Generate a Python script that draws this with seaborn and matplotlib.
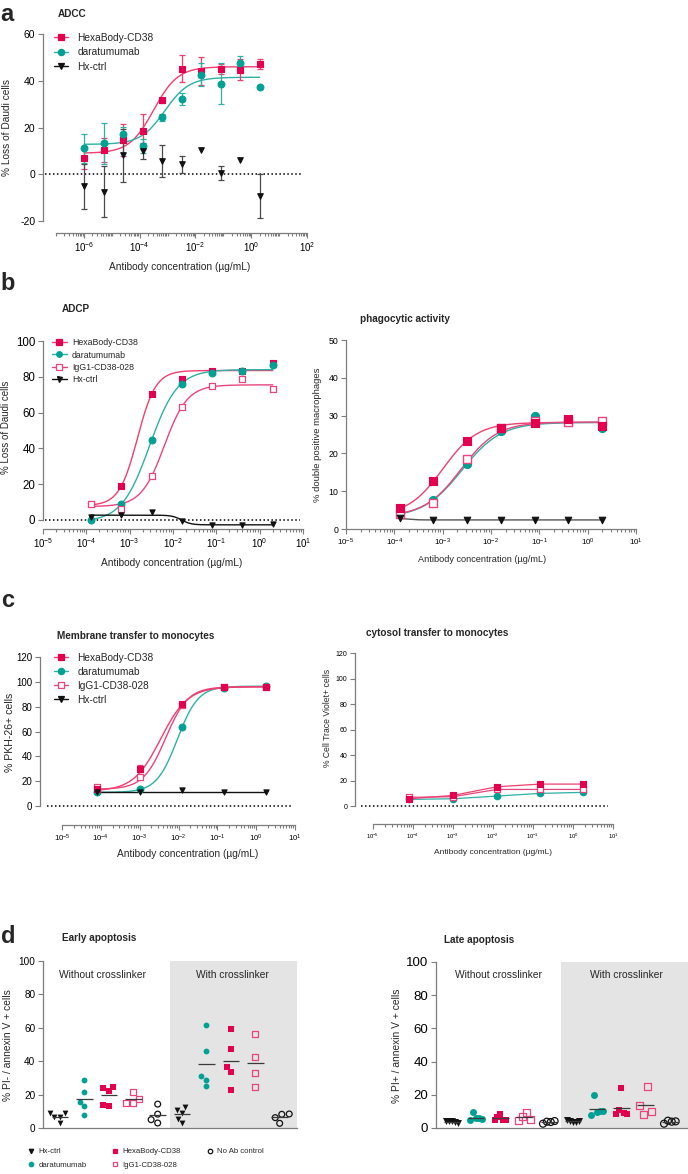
import numpy as np
import pandas as pd
import matplotlib
matplotlib.use("Agg")
import matplotlib.pyplot as plt
import seaborn as sns
from matplotlib.lines import Line2D
from matplotlib.ticker import FixedLocator, NullFormatter, LogFormatterMathtext

sns.set_theme(style="ticks")
plt.rcParams["font.family"] = ["Liberation Sans", "DejaVu Sans"]
plt.rcParams["mathtext.default"] = "regular"
plt.rcParams["axes.unicode_minus"] = False

# ------------------------------------------------------------------ data
# a: ADCC
conc_a = [1.024e-6, 5.12e-6, 2.56e-5, 1.28e-4, 6.4e-4, 3.2e-3, 1.6e-2, 8e-2, 0.4, 2.0]
hexa_a = [7.1, 10.4, 14.6, 18.4, 31.6, 45.1, 44.0, 45.0, 44.8, 47.1]
hexa_a_sd = [5.0, 5.1, 6.8, 7.5, 1.0, 5.8, 6.0, 2.0, 4.5, 2.0]
dara_a = [11.1, 13.2, 17.4, 12.3, 24.3, 32.3, 42.6, 38.7, 47.5, 37.2]
dara_a_sd = [6.2, 8.6, 3.0, 3.0, 1.3, 2.5, 4.9, 8.8, 3.3, 0.0]
hx_a = [-5.2, -7.4, 8.1, 9.9, 5.7, 4.3, 10.6, 0.4, 6.1, -9.2]
hx_a_sd = [9.8, 11.0, 11.2, 3.5, 7.0, 3.7, 0.0, 3.0, 0.0, 9.5]
# fitted 4PL parameters: bottom, top, logEC50, hill
fit_a_hexa = [9.0, 46.0, -3.5, 1.0]
fit_a_dara = [12.8, 41.5, -3.1, 1.0]

# b: ADCP + phagocytic activity
conc_b = [1.28e-4, 6.4e-4, 3.2e-3, 1.6e-2, 8e-2, 0.4, 2.0]
hexa_b = [8.9, 19.0, 70.4, 78.6, 83.4, 83.4, 87.9]
dara_b = [0.0, 8.9, 44.7, 75.8, 81.9, 83.1, 86.4]
igg_b = [9.0, 6.1, 24.8, 63.3, 74.9, 78.6, 73.0]
hx_b = [1.5, 2.8, 4.3, -0.5, -2.9, -2.9, -2.2]
fit_b_hexa = [8.0, 83.5, -2.82, 2.06]
fit_b_dara = [-1.0, 84.0, -2.54, 1.35]
fit_b_igg = [7.5, 75.5, -2.20, 1.63]
fit_b_hx = [2.7, -2.7, -1.8, 4.0]

hexa_p = [5.6, 12.7, 23.4, 26.8, 28.0, 29.1, 27.3]
dara_p = [3.9, 7.7, 17.3, 25.9, 29.9, 28.8, 26.8]
igg_p = [4.1, 7.0, 18.4, 26.8, 28.7, 28.4, 28.5]
hx_p = [2.8, 2.4, 2.4, 2.5, 2.4, 2.4, 2.4]
fit_p_hexa = [3.5, 28.2, -3.00, 1.21]
fit_p_dara = [3.0, 28.2, -2.60, 1.08]
fit_p_igg = [3.3, 28.3, -2.62, 1.15]
fit_p_hx = [2.8, 2.4, -3.7, 5.0]

# c: trogocytosis
conc_c = [8.0e-5, 1.0e-3, 1.25e-2, 0.15, 1.8]
hexa_c = [13.5, 30.0, 82.0, 96.0, 95.5]
hexa_c_sd = [0.0, 3.0, 0.0, 0.0, 0.0]
dara_c = [11.0, 14.0, 64.0, 95.0, 96.5]
igg_c = [15.0, 23.0, 81.0, 96.0, 95.5]
hx_c = [11.5, 11.5, 12.5, 11.0, 11.0]
fit_c_hexa = [12.0, 96.0, -2.46, 1.24]
fit_c_dara = [11.0, 96.5, -2.03, 1.62]
fit_c_igg = [13.5, 96.0, -2.33, 1.51]
fit_c_hx = [11.5, 11.5, -3.0, 1.0]

hexa_cr = [5.7, 8.3, 15.1, 17.2, 17.2]
dara_cr = [5.2, 5.7, 7.8, 9.9, 10.7]
igg_cr = [6.8, 7.3, 13.0, 13.0, 13.0]

# d: apoptosis
treatments = ["Hx-ctrl", "daratumumab", "HexaBody-CD38", "IgG1-CD38-028", "No Ab control"]
conditions = ["Without crosslinker", "With crosslinker"]
early = {
    ("Hx-ctrl", "Without crosslinker"): [9.2, 8.8, 6.4, 6.4, 2.8],
    ("daratumumab", "Without crosslinker"): [28.7, 21.6, 15.6, 13.4, 7.8],
    ("HexaBody-CD38", "Without crosslinker"): [24.0, 24.8, 22.4, 13.2, 13.8],
    ("IgG1-CD38-028", "Without crosslinker"): [21.8, 17.3, 14.8, 14.8],
    ("No Ab control", "Without crosslinker"): [14.3, 8.3, 3.0, 5.0],
    ("Hx-ctrl", "With crosslinker"): [12.4, 9.2, 10.8, 5.6, 2.8],
    ("daratumumab", "With crosslinker"): [61.9, 45.9, 30.9, 28.9, 25.1],
    ("HexaBody-CD38", "With crosslinker"): [59.5, 47.5, 36.3, 33.7, 22.6],
    ("IgG1-CD38-028", "With crosslinker"): [56.3, 42.7, 33.1, 24.4],
    ("No Ab control", "With crosslinker"): [8.4, 8.2, 6.2, 2.8],
}
late = {
    ("Hx-ctrl", "Without crosslinker"): [4.5, 4.0, 4.0, 3.5, 3.0],
    ("daratumumab", "Without crosslinker"): [4.6, 9.6, 6.0, 5.8, 5.6],
    ("HexaBody-CD38", "Without crosslinker"): [5.0, 6.6, 8.4, 5.0, 5.0],
    ("IgG1-CD38-028", "Without crosslinker"): [4.4, 7.0, 9.4, 5.0],
    ("No Ab control", "Without crosslinker"): [2.6, 3.8, 3.6, 4.2],
    ("Hx-ctrl", "With crosslinker"): [5.0, 4.2, 3.6, 3.4, 4.0],
    ("daratumumab", "With crosslinker"): [7.8, 19.6, 9.6, 10.0, 10.4],
    ("HexaBody-CD38", "With crosslinker"): [8.4, 11.0, 24.0, 9.0, 8.6],
    ("IgG1-CD38-028", "With crosslinker"): [13.4, 8.0, 25.0, 10.0],
    ("No Ab control", "With crosslinker"): [2.6, 4.4, 3.8, 4.0],
}

# ------------------------------------------------------------------ style
AX = "#7d7d7d"
MAG = "#E3004F"
MAG_L = "#EE3F6E"
TEAL = "#00A094"
TEAL_L = "#2DB0A5"
PINK = "#E8457C"
BLK = "#111111"
GREYBAR = "#4a4a4a"

W, H = 688, 1174
fig = plt.figure(figsize=(W / 100, H / 100), dpi=100)
fig.patch.set_facecolor("white")
BOX = {}


def add_ax(name, l, t, r, b):
    ax = fig.add_axes([l / W, 1 - b / H, (r - l) / W, (b - t) / H])
    BOX[name] = (l, t, r, b)
    ax.set_facecolor("none")
    for s in ["top", "right"]:
        ax.spines[s].set_visible(False)
    for s in ["left", "bottom"]:
        ax.spines[s].set_color(AX)
        ax.spines[s].set_linewidth(0.9)
    ax.tick_params(which="both", color=AX, width=0.8, labelcolor="black", direction="out")
    ax.tick_params(which="major", length=3.5, pad=2)
    ax.tick_params(which="minor", length=2.0)
    ax.grid(False)
    return ax


def ftext(x, y, s, **kw):
    fig.text(x / W, 1 - y / H, s, **kw)


def log_axis(ax, lo_exp, e0, e1, labeled, fs):
    ax.set_xscale("log")
    ax.set_xlim(10 ** lo_exp, 10.0 ** e1)
    ax.spines["bottom"].set_bounds(10.0 ** e0, 10.0 ** e1)
    ax.xaxis.set_major_locator(FixedLocator([10.0 ** e for e in labeled]))
    ax.xaxis.set_major_formatter(LogFormatterMathtext())
    minors = [k * 10.0 ** e for e in range(e0, e1) for k in range(2, 10)]
    minors += [10.0 ** e for e in range(e0, e1 + 1) if e not in labeled]
    ax.xaxis.set_minor_locator(FixedLocator(minors))
    ax.xaxis.set_minor_formatter(NullFormatter())
    ax.tick_params(axis="x", labelsize=fs)


def y_axis(ax, lo, hi, blo, bhi, step, fs):
    ax.set_ylim(lo, hi)
    ax.spines["left"].set_bounds(blo, bhi)
    ax.set_yticks(np.arange(blo, bhi + 0.1, step))
    ax.tick_params(axis="y", labelsize=fs)


def logistic(xs, p):
    b, t, l, h = p
    return b + (t - b) / (1 + 10 ** ((l - np.log10(xs)) * h))


def curve(ax, conc, p, color, lw=1.0):
    xs = np.logspace(np.log10(min(conc)), np.log10(max(conc)), 300)
    sns.lineplot(x=xs, y=logistic(xs, p), ax=ax, color=color, lw=lw,
                 estimator=None, sort=False, zorder=2)


def pts(ax, x, y, marker, s, face, edge, lw=0.8, z=4):
    n0 = len(ax.collections)
    sns.scatterplot(x=x, y=y, ax=ax, marker=marker, s=s, color=edge,
                    linewidth=lw, edgecolor=edge, legend=False, zorder=z, clip_on=False)
    for c in ax.collections[n0:]:
        c.set_facecolor(face)
        c.set_edgecolor(edge)


def ebar(ax, x, y, sd, color, lw=0.9, cap=2.0):
    idx = [i for i, v in enumerate(sd) if v > 0]
    ax.errorbar([x[i] for i in idx], [y[i] for i in idx], yerr=[sd[i] for i in idx],
                fmt="none", ecolor=color, elinewidth=lw, capsize=cap, capthick=lw, zorder=3)


def zero_dots(ax, name, x0, x1):
    l, t, r, b = BOX[name]
    ax.plot([(x0 - l) / (r - l), (x1 - l) / (r - l)], [0, 0], transform=ax.get_yaxis_transform(),
            color="black", lw=1.1, ls=(0, (1, 1.6)), clip_on=False, zorder=1)


def handle(marker, face, edge, line, ms):
    return Line2D([0], [0], color=line, lw=1.0, marker=marker, markersize=ms,
                  markerfacecolor=face, markeredgecolor=edge, markeredgewidth=0.9)


def legend(ax, handles, labels, x, y, fs, ls, hl=1.4, tp=0.9):
    ax.legend(handles, labels, loc="upper left", bbox_to_anchor=(x / W, 1 - y / H),
              bbox_transform=fig.transFigure, frameon=False, fontsize=fs, labelspacing=ls,
              handlelength=hl, handletextpad=tp, borderpad=0, borderaxespad=0)


# ------------------------------------------------------------------ panel a
ax = add_ax("a", 43, 34, 307, 233)
log_axis(ax, -7.47, -7, 2, [-6, -4, -2, 0, 2], 7)
y_axis(ax, -25.1, 60, -20, 60, 20, 7.5)
zero_dots(ax, "a", 45, 303)
curve(ax, conc_a, fit_a_hexa, MAG_L)
curve(ax, conc_a, fit_a_dara, TEAL_L)
ebar(ax, conc_a, hexa_a, hexa_a_sd, MAG_L)
ebar(ax, conc_a, dara_a, dara_a_sd, TEAL_L)
ebar(ax, conc_a, hx_a, hx_a_sd, GREYBAR)
pts(ax, conc_a, hexa_a, "s", 22, MAG, MAG)
pts(ax, conc_a, dara_a, "o", 24, TEAL, TEAL)
pts(ax, conc_a, hx_a, "v", 16, BLK, BLK)
legend(ax, [handle("s", MAG, MAG, MAG_L, 4.5), handle("o", TEAL, TEAL, TEAL_L, 4.5),
            handle("v", BLK, BLK, BLK, 4)],
       ["HexaBody-CD38", "daratumumab", "Hx-ctrl"], 54, 33, 7.3, 0.42)
ax.set_xlabel("")
ax.set_ylabel("")
ftext(7, 128, "% Loss of Daudi cells", rotation=90, ha="center", va="center", fontsize=7.3)
ftext(180, 267, "Antibody concentration (µg/mL)", ha="center", va="center", fontsize=7.3)
ftext(58, 14, "ADCC", ha="left", va="center", fontsize=7.2, fontweight="bold")
ftext(0, 21, "a", ha="left", va="baseline", fontsize=17, fontweight="bold")

# ------------------------------------------------------------------ panel b left
ax = add_ax("bl", 43, 341, 303, 529)
log_axis(ax, -5, -5, 1, [-5, -4, -3, -2, -1, 0, 1], 7)
y_axis(ax, -5.03, 100, 0, 100, 20, 8.3)
zero_dots(ax, "bl", 45, 300)
curve(ax, conc_b, fit_b_hexa, MAG_L)
curve(ax, conc_b, fit_b_dara, TEAL_L)
curve(ax, conc_b, fit_b_igg, PINK)
curve(ax, conc_b, fit_b_hx, BLK)
pts(ax, conc_b, hexa_b, "s", 22, MAG, MAG)
pts(ax, conc_b, dara_b, "o", 24, TEAL, TEAL)
pts(ax, conc_b, igg_b, "s", 22, "white", PINK, lw=0.9)
pts(ax, conc_b, hx_b, "v", 14, BLK, BLK)
legend(ax, [handle("s", MAG, MAG, MAG_L, 4), handle("o", TEAL, TEAL, TEAL_L, 4),
            handle("s", "white", PINK, PINK, 4), handle("v", BLK, BLK, BLK, 3.6)],
       ["HexaBody-CD38", "daratumumab", "IgG1-CD38-028", "Hx-ctrl"], 52, 338, 6.3, 0.4,
       hl=1.7, tp=0.6)
ax.set_xlabel("")
ax.set_ylabel("")
ftext(6, 427, "% Loss of Daudi cells", rotation=90, ha="center", va="center", fontsize=7.0)
ftext(172, 563, "Antibody concentration (µg/mL)", ha="center", va="center", fontsize=7.3)
ftext(62, 309, "ADCP", ha="left", va="center", fontsize=7.2, fontweight="bold")
ftext(0, 290, "b", ha="left", va="baseline", fontsize=17, fontweight="bold")

# ------------------------------------------------------------------ panel b right
ax = add_ax("br", 346, 340, 636, 529)
log_axis(ax, -5, -5, 1, [-5, -4, -3, -2, -1, 0, 1], 5.8)
y_axis(ax, 0, 50, 0, 50, 10, 6.3)
curve(ax, conc_b, fit_p_hexa, MAG_L)
curve(ax, conc_b, fit_p_dara, TEAL_L)
curve(ax, conc_b, fit_p_igg, PINK)
curve(ax, conc_b, fit_p_hx, "#555555")
pts(ax, conc_b, dara_p, "o", 34, TEAL, TEAL)
pts(ax, conc_b, igg_p, "s", 30, "white", PINK, lw=1.0)
pts(ax, conc_b, hexa_p, "s", 30, MAG, MAG)
pts(ax, conc_b, hx_p, "v", 22, BLK, BLK)
ax.set_xlabel("")
ax.set_ylabel("")
ftext(318, 435, "% double positive macrophages", rotation=90, ha="center", va="center", fontsize=6.8)
ftext(482, 560, "Antibody concentration (µg/mL)", ha="center", va="center", fontsize=6.6)
ftext(360, 319, "phagocytic activity", ha="left", va="center", fontsize=7.2, fontweight="bold")

# ------------------------------------------------------------------ panel c left
ax = add_ax("cl", 40, 657, 295, 825)
log_axis(ax, -5.567, -5, 1, [-5, -4, -3, -2, -1, 0, 1], 5.6)
y_axis(ax, -15.3, 120, 0, 120, 20, 7.0)
zero_dots(ax, "cl", 47, 293)
curve(ax, conc_c, fit_c_dara, TEAL_L)
curve(ax, conc_c, fit_c_igg, PINK)
curve(ax, conc_c, fit_c_hexa, MAG_L)
curve(ax, conc_c, fit_c_hx, BLK)
ebar(ax, conc_c, hexa_c, hexa_c_sd, MAG_L)
pts(ax, conc_c, dara_c, "o", 24, TEAL, TEAL)
pts(ax, conc_c, igg_c, "s", 22, "white", PINK, lw=0.9)
pts(ax, conc_c, hexa_c, "s", 22, MAG, MAG)
pts(ax, conc_c, hx_c, "v", 14, BLK, BLK)
legend(ax, [handle("s", MAG, MAG, MAG_L, 4.5), handle("o", TEAL, TEAL, TEAL_L, 4.5),
            handle("s", "white", PINK, PINK, 4.5), handle("v", BLK, BLK, BLK, 4)],
       ["HexaBody-CD38", "daratumumab", "IgG1-CD38-028", "Hx-ctrl"], 54, 653, 7.3, 0.38)
ax.set_xlabel("")
ax.set_ylabel("")
ftext(10, 732, "% PKH-26+ cells", rotation=90, ha="center", va="center", fontsize=7.6)
ftext(188, 854, "Antibody concentration (µg/mL)", ha="center", va="center", fontsize=7.3)
ftext(57, 636, "Membrane transfer to monocytes", ha="left", va="center", fontsize=7.2,
      fontweight="bold")
ftext(1, 607, "c", ha="left", va="baseline", fontsize=17, fontweight="bold")

# ------------------------------------------------------------------ panel c right
ax = add_ax("cr", 355, 653, 613, 824)
log_axis(ax, -5.45, -5, 1, [-5, -4, -3, -2, -1, 0, 1], 4.2)
y_axis(ax, -14.1, 120, 0, 120, 20, 5.0)
zero_dots(ax, "cr", 361, 608)
sns.lineplot(x=conc_c, y=dara_cr, ax=ax, color=TEAL_L, lw=0.9, estimator=None, sort=False, zorder=2)
sns.lineplot(x=conc_c, y=igg_cr, ax=ax, color=PINK, lw=0.9, estimator=None, sort=False, zorder=2)
sns.lineplot(x=conc_c, y=hexa_cr, ax=ax, color=MAG_L, lw=0.9, estimator=None, sort=False, zorder=2)
pts(ax, conc_c, dara_cr, "o", 22, TEAL, TEAL)
pts(ax, conc_c, igg_cr, "s", 20, "white", PINK, lw=0.9)
pts(ax, conc_c, hexa_cr, "s", 20, MAG, MAG)
ax.set_xlabel("")
ax.set_ylabel("")
ftext(328, 718, "% Cell Trace Violet+ cells", rotation=90, ha="center", va="center", fontsize=6.2)
ftext(493, 853, "Antibody concentration (µg/mL)", ha="center", va="center", fontsize=6.0)
ftext(366, 633, "cytosol transfer to monocytes", ha="left", va="center", fontsize=7.2,
      fontweight="bold")

# ------------------------------------------------------------------ panel d
slots = [f"{t} | {c}" for c in conditions for t in treatments]
styles = {
    "Hx-ctrl": ("v", BLK, BLK),
    "daratumumab": ("o", TEAL, TEAL),
    "HexaBody-CD38": ("s", MAG, MAG),
    "IgG1-CD38-028": ("s", "none", PINK),
    "No Ab control": ("o", "none", BLK),
}


def apoptosis(name, box, data, xlo, xhi, fs_tick, msize, ylabel, ylab_x, swarm=True):
    ax = add_ax(name, *box)
    rows = [(t, c, f"{t} | {c}", v) for (t, c), vals in data.items() for v in vals]
    df = pd.DataFrame(rows, columns=["treatment", "condition", "slot", "value"])
    ax.axvspan(4.5, xhi, color="#E4E4E4", lw=0, zorder=0)
    for t in treatments:
        m, face, edge = styles[t]
        n0 = len(ax.collections)
        kw = dict(data=df[df.treatment == t], x="slot", y="value", order=slots, ax=ax,
                  marker=m, color=edge, size=msize, linewidth=0.9 if face == "none" else 0,
                  edgecolor=edge, zorder=3)
        if swarm:
            sns.swarmplot(**kw)
        else:
            sns.stripplot(jitter=False, **kw)
        for coll in ax.collections[n0:]:
            coll.set_facecolor(face)
            coll.set_edgecolor(edge)
            if not swarm:
                off = np.array(coll.get_offsets(), dtype=float)
                n = len(off)
                if n > 1:
                    off[:, 0] += np.linspace(-0.24, 0.24, n)
                    coll.set_offsets(off)
    means = df.groupby("slot")["value"].mean().reindex(slots).to_numpy()
    pos = np.arange(len(slots))
    ax.hlines(means, pos - 0.34, pos + 0.34, color="#3a3a3a", lw=0.9, zorder=4)
    ax.set_xlim(xlo, xhi)
    ax.set_ylim(0, 100)
    ax.set_yticks(np.arange(0, 101, 20))
    ax.tick_params(axis="y", labelsize=fs_tick)
    ax.set_xticks([])
    ax.tick_params(axis="x", which="both", length=0)
    ax.set_xlabel("")
    ax.set_ylabel("")
    l, t_, r, b = box
    ftext(ylab_x, (t_ + b) / 2 + 1, ylabel, rotation=90, ha="center", va="center", fontsize=7.4)
    return ax


apoptosis("dl", (43, 961, 297, 1128), early, -0.7, 9.71, 7.2, 4.2,
          "% PI- / annexin V + cells", 8)
ftext(103, 975, "Without crosslinker", ha="center", va="center", fontsize=7.4)
ftext(232, 975, "With crosslinker", ha="center", va="center", fontsize=7.4)
ftext(62, 938, "Early apoptosis", ha="left", va="center", fontsize=7.2, fontweight="bold")
ftext(1, 943, "d", ha="left", va="baseline", fontsize=17, fontweight="bold")

apoptosis("dr", (436, 962, 688, 1128), late, -0.66, 9.75, 9.5, 5.0,
          "% PI+ / annexin V + cells", 397, swarm=False)
ftext(499, 975, "Without crosslinker", ha="center", va="center", fontsize=7.4)
ftext(626, 975, "With crosslinker", ha="center", va="center", fontsize=7.4)
ftext(444, 940, "Late apoptosis", ha="left", va="center", fontsize=7.2, fontweight="bold")

# legend for d
leg_h = []
for t in treatments:
    m, face, edge = styles[t]
    leg_h.append(Line2D([0], [0], ls="none", marker=m, markersize=3.2,
                        markerfacecolor=face, markeredgecolor=edge, markeredgewidth=0.9))
fig.legend(leg_h, treatments, ncol=3, loc="upper left", bbox_to_anchor=(27 / W, 1 - 1148 / H),
           frameon=False, fontsize=5.6, handlelength=1.0, handletextpad=0.45,
           columnspacing=3.2, labelspacing=0.75, borderpad=0, borderaxespad=0)

fig.savefig("out.png", dpi=100, facecolor="white")
